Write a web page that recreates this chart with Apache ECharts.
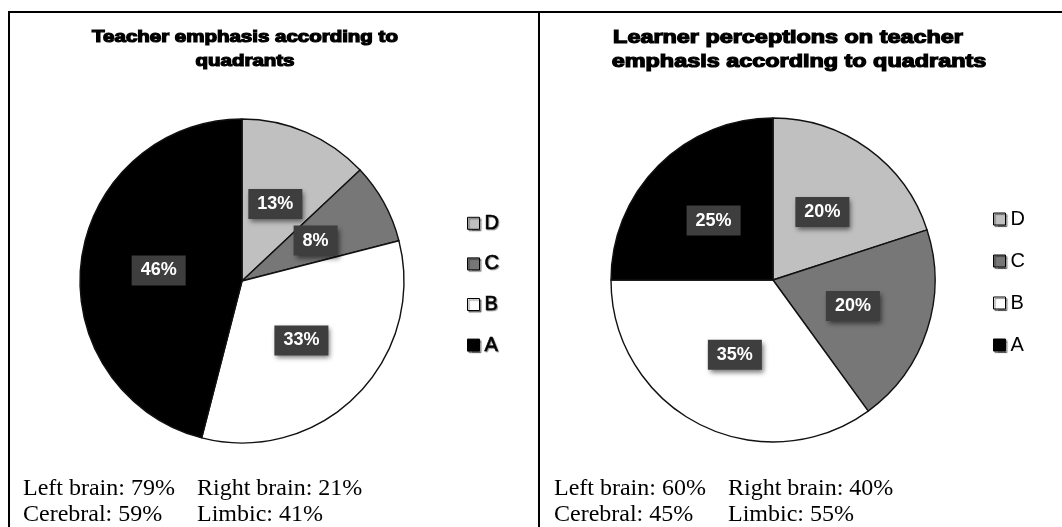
<!DOCTYPE html>
<html>
<head>
<meta charset="utf-8">
<title>Teacher emphasis according to quadrants</title>
<script src="https://cdn.jsdelivr.net/npm/echarts@6/dist/echarts.min.js"></script>
<style>
  html, body { margin: 0; padding: 0; background: #ffffff; }
  #chart { width: 1062px; height: 527px; }
</style>
</head>
<body>
<div id="chart"></div>
<script>
// Quadrant shares (per cent), listed clockwise from 12 o'clock
const quadrants = ['D', 'C', 'B', 'A'];
const teacherShare = [13, 8, 33, 46];
const learnerShare = [20, 20, 35, 25];
const quadrantColors = ['#c0c0c0', '#777777', '#ffffff', '#000000'];

// Panel headings (two lines each)
const teacherTitle = ['Teacher emphasis according to', 'quadrants'];
const learnerTitle = ['Learner perceptions on teacher', 'emphasis according to quadrants'];

// Summary lines under each pie
const teacherNotes = [['Left brain: 79%', 'Right brain: 21%'], ['Cerebral: 59%', 'Limbic: 41%']];
const learnerNotes = [['Left brain: 60%', 'Right brain: 40%'], ['Cerebral: 45%', 'Limbic: 55%']];

const chart = echarts.init(document.getElementById('chart'), null, { renderer: 'canvas' });

function pieData(values) {
  return quadrants.map((name, i) => ({
    name: name,
    value: values[i],
    itemStyle: { color: quadrantColors[i] }
  }));
}

const sliceLabel = {
  show: true,
  position: 'inside',
  formatter: '{c}%',
  color: '#ffffff',
  fontFamily: 'Liberation Sans, Arial, sans-serif',
  fontWeight: 'bold',
  fontSize: 18,
  lineHeight: 18,
  backgroundColor: '#3e3e3e',
  padding: [6, 9],
  shadowColor: 'rgba(0,0,0,0.55)',
  shadowBlur: 5,
  shadowOffsetX: 2,
  shadowOffsetY: 3
};

function pieSeries(values, center) {
  return {
    type: 'pie',
    center: center,
    radius: 162,
    startAngle: 90,
    clockwise: true,
    avoidLabelOverlap: false,
    silent: true,
    data: pieData(values),
    itemStyle: { borderColor: '#111111', borderWidth: 1.4 },
    label: sliceLabel,
    labelLine: { show: false },
    emphasis: { disabled: true }
  };
}

function legendAt(left, top, gap, heavy) {
  return {
    orient: 'vertical',
    left: left,
    top: top,
    padding: 0,
    icon: 'rect',
    itemWidth: 12,
    itemHeight: 12,
    itemGap: gap,
    selectedMode: false,
    data: quadrants,
    itemStyle: {
      borderColor: '#000000',
      borderWidth: 1,
      shadowColor: 'rgba(0,0,0,0.45)',
      shadowBlur: 1,
      shadowOffsetX: 1.5,
      shadowOffsetY: 1.5
    },
    textStyle: Object.assign({
      fontFamily: 'Liberation Sans, Arial, sans-serif',
      fontSize: 20,
      lineHeight: 18,
      color: '#000000',
      padding: [0, 0, 0, 0]
    }, heavy ? {
      textBorderColor: '#000000',
      textBorderWidth: 0.6,
      textShadowColor: 'rgba(0,0,0,0.4)',
      textShadowBlur: 1,
      textShadowOffsetX: 1,
      textShadowOffsetY: 1
    } : {})
  };
}

function headingLines(lines, xs, ys, size, stretch) {
  return lines.map((t, i) => ({
    type: 'text',
    x: xs[i],
    y: ys[i],
    scaleX: stretch,
    silent: true,
    style: {
      text: t,
      align: 'center',
      verticalAlign: 'middle',
      fontFamily: 'Liberation Sans, Arial, sans-serif',
      fontWeight: 'bold',
      fontSize: size,
      fill: '#000000',
      stroke: '#000000',
      lineWidth: 1.2,
      shadowColor: 'rgba(0,0,0,0.45)',
      shadowBlur: 2,
      shadowOffsetX: 1.5,
      shadowOffsetY: 1.5
    }
  }));
}

function noteLines(rows, x1, x2, ys) {
  const out = [];
  rows.forEach((row, r) => {
    [x1, x2].forEach((x, c) => {
      out.push({
        type: 'text',
        x: x,
        y: ys[r],
        silent: true,
        style: {
          text: row[c],
          align: 'left',
          verticalAlign: 'middle',
          fontFamily: 'Liberation Serif, Times New Roman, serif',
          fontSize: 24,
          fill: '#000000'
        }
      });
    });
  });
  return out;
}

function rule(x1, y1, x2, y2) {
  return {
    type: 'line',
    silent: true,
    shape: { x1: x1, y1: y1, x2: x2, y2: y2 },
    style: { stroke: '#000000', lineWidth: 2 }
  };
}

const option = {
  animation: false,
  backgroundColor: '#ffffff',
  legend: [legendAt(467, 213, 20, true), legendAt(993, 209, 22, false)],
  series: [
    pieSeries(teacherShare, [242, 281]),
    pieSeries(learnerShare, [773, 280])
  ],
  graphic: [
    // table frame
    rule(8, 12, 1062, 12),
    rule(9, 11, 9, 527),
    rule(539, 11, 539, 527)
  ]
    .concat(headingLines(teacherTitle, [245, 245], [38, 61.5], 16, 1.28))
    .concat(headingLines(learnerTitle, [788, 799], [38.5, 62], 18, 1.3))
    .concat(noteLines(teacherNotes, 23, 197, [489, 515]))
    .concat(noteLines(learnerNotes, 554, 728, [489, 515]))
};

chart.setOption(option);
</script>
</body>
</html>
